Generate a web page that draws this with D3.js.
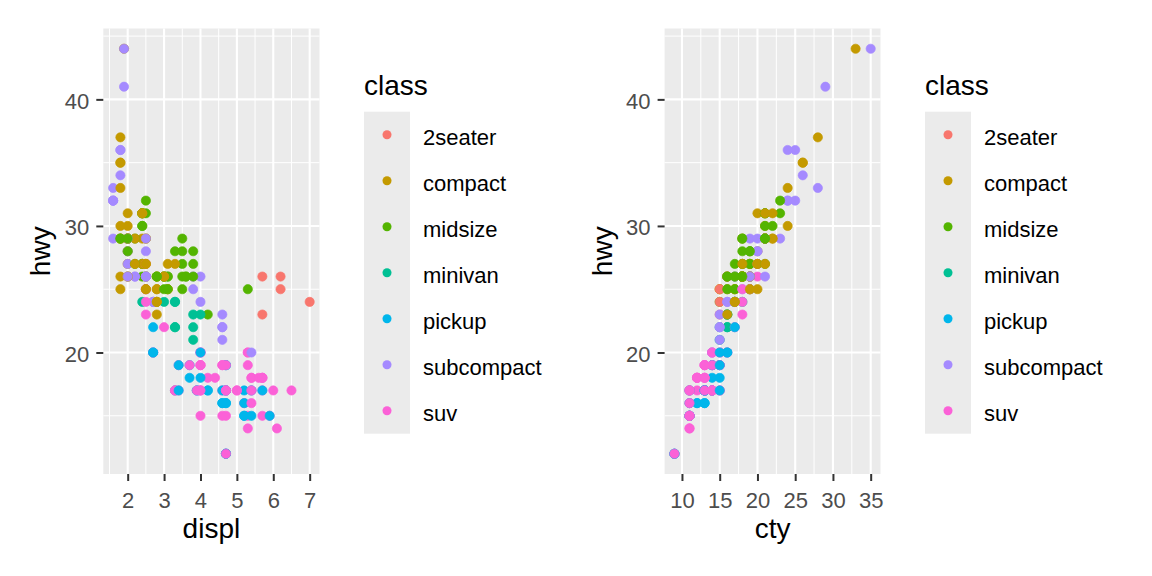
<!DOCTYPE html>
<html>
<head>
<meta charset="utf-8">
<script src="https://cdn.jsdelivr.net/npm/d3@7"></script>
<style>
  body { margin: 0; background: #fff; }
  text { font-family: "Liberation Sans", Arial, sans-serif; }
</style>
</head>
<body>
<svg id="chart" width="1152" height="576"></svg>
<script>
// legend categories and their hue colours
var classes = ["2seater", "compact", "midsize", "minivan", "pickup", "subcompact", "suv"];
var palette = ["#F8766D", "#C49A00", "#53B400", "#00C094", "#00B6EB", "#A58AFF", "#FB61D7"];

// tick labels
var displTicks = [2, 3, 4, 5, 6, 7];
var ctyTicks = [10, 15, 20, 25, 30, 35];
var hwyTicks = [20, 30, 40];

// one entry per car, in drawing order
var displ = [
  1.8,1.8,2.0,2.0,2.8,2.8,3.1,1.8,1.8,2.0,
  2.0,2.8,2.8,3.1,3.1,2.8,3.1,4.2,5.3,5.3,
  5.3,5.7,6.0,5.7,5.7,6.2,6.2,7.0,5.3,5.3,
  5.7,6.5,2.4,2.4,3.1,3.5,3.6,2.4,3.0,3.3,
  3.3,3.3,3.3,3.3,3.8,3.8,3.8,4.0,3.7,3.7,
  3.9,3.9,4.7,4.7,4.7,5.2,5.2,3.9,4.7,4.7,
  4.7,5.2,5.7,5.9,4.7,4.7,4.7,4.7,4.7,4.7,
  5.2,5.2,5.7,5.9,4.6,5.4,5.4,4.0,4.0,4.0,
  4.0,4.6,5.0,4.2,4.2,4.6,4.6,4.6,5.4,5.4,
  3.8,3.8,4.0,4.0,4.6,4.6,4.6,4.6,5.4,1.6,
  1.6,1.6,1.6,1.6,1.8,1.8,1.8,2.0,2.4,2.4,
  2.4,2.4,2.5,2.5,3.3,2.0,2.0,2.0,2.0,2.7,
  2.7,2.7,3.0,3.7,4.0,4.7,4.7,4.7,5.7,6.1,
  4.0,4.2,4.4,4.6,5.4,5.4,5.4,4.0,4.0,4.6,
  5.0,2.4,2.4,2.5,2.5,3.5,3.5,3.0,3.0,3.5,
  3.3,3.3,4.0,5.6,3.1,3.8,3.8,3.8,5.3,2.5,
  2.5,2.5,2.5,2.5,2.5,2.2,2.2,2.5,2.5,2.5,
  2.5,2.5,2.5,2.7,2.7,3.4,3.4,4.0,4.7,2.2,
  2.2,2.4,2.4,3.0,3.0,3.5,2.2,2.2,2.4,2.4,
  3.0,3.0,3.3,1.8,1.8,1.8,1.8,1.8,4.7,5.7,
  2.7,2.7,2.7,3.4,3.4,4.0,4.0,2.0,2.0,2.0,
  2.0,2.8,1.9,2.0,2.0,2.0,2.0,2.5,2.5,2.8,
  2.8,1.9,1.9,2.0,2.0,2.5,2.5,1.8,1.8,2.0,
  2.0,2.8,2.8,3.6
];
var cty = [
  18,21,20,21,16,18,18,18,16,20,
  19,15,17,17,15,15,17,16,14,11,
  14,13,12,16,15,16,15,15,14,11,
  11,14,19,22,18,18,17,18,17,16,
  16,17,17,11,15,15,16,16,15,14,
  13,14,14,14,9,11,11,13,13,9,
  13,11,13,11,12,9,13,13,12,9,
  11,11,13,11,11,11,12,14,15,14,
  13,13,13,14,14,13,13,13,11,13,
  18,18,17,16,15,15,15,15,14,28,
  24,25,23,24,26,25,24,21,18,18,
  21,21,18,18,19,19,19,20,20,17,
  16,17,17,15,15,14,9,14,13,11,
  11,12,12,11,11,11,12,14,13,13,
  13,21,19,23,23,19,19,18,19,19,
  14,15,14,12,18,16,17,18,16,18,
  18,20,19,20,18,21,19,19,19,20,
  20,19,20,15,16,15,15,16,14,21,
  21,21,21,18,18,19,21,21,21,22,
  18,18,18,24,24,26,28,26,11,13,
  15,16,17,15,15,15,16,21,19,21,
  22,17,33,21,19,22,21,21,21,16,
  17,35,29,21,19,20,20,21,18,19,
  21,16,18,17
];
var hwy = [
  29,29,31,30,26,26,27,26,25,28,
  27,25,25,25,25,24,25,23,20,15,
  20,17,17,26,23,26,25,24,19,14,
  15,17,27,30,26,29,26,24,24,22,
  22,24,24,17,22,21,23,23,19,18,
  17,17,19,19,12,17,15,17,17,12,
  17,16,18,15,16,12,17,17,16,12,
  15,16,17,15,17,17,18,17,19,17,
  19,19,17,17,17,16,16,17,15,17,
  26,25,26,24,21,22,23,22,20,33,
  32,32,29,32,34,36,36,29,26,27,
  30,31,26,26,28,26,29,28,27,24,
  24,24,22,19,20,17,12,19,18,14,
  15,18,18,15,17,16,18,17,19,19,
  17,29,27,31,32,27,26,26,25,25,
  17,17,20,18,26,26,27,28,25,25,
  24,27,25,26,23,26,26,26,26,25,
  27,25,27,20,20,19,17,20,17,29,
  27,31,31,26,26,28,27,29,31,31,
  26,26,27,30,33,35,37,35,15,18,
  20,20,22,17,19,18,20,29,26,29,
  29,24,44,29,26,29,29,29,29,23,
  24,44,41,29,26,28,29,29,29,28,
  29,26,26,26
];
var carClass = [
  "compact","compact","compact","compact","compact","compact","compact","compact","compact","compact",
  "compact","compact","compact","compact","compact","midsize","midsize","midsize","suv","suv",
  "suv","suv","suv","2seater","2seater","2seater","2seater","2seater","suv","suv",
  "suv","suv","midsize","midsize","midsize","midsize","midsize","minivan","minivan","minivan",
  "minivan","minivan","minivan","minivan","minivan","minivan","minivan","minivan","pickup","pickup",
  "pickup","pickup","pickup","pickup","pickup","pickup","pickup","suv","suv","suv",
  "suv","suv","suv","suv","pickup","pickup","pickup","pickup","pickup","pickup",
  "pickup","pickup","pickup","pickup","suv","suv","suv","suv","suv","suv",
  "suv","suv","suv","pickup","pickup","pickup","pickup","pickup","pickup","pickup",
  "subcompact","subcompact","subcompact","subcompact","subcompact","subcompact","subcompact","subcompact","subcompact","subcompact",
  "subcompact","subcompact","subcompact","subcompact","subcompact","subcompact","subcompact","subcompact","midsize","midsize",
  "midsize","midsize","midsize","midsize","midsize","subcompact","subcompact","subcompact","subcompact","subcompact",
  "subcompact","subcompact","suv","suv","suv","suv","suv","suv","suv","suv",
  "suv","suv","suv","suv","suv","suv","suv","suv","suv","suv",
  "suv","compact","compact","midsize","midsize","midsize","midsize","midsize","midsize","midsize",
  "suv","suv","suv","suv","midsize","midsize","midsize","midsize","midsize","suv",
  "suv","suv","suv","suv","suv","subcompact","subcompact","subcompact","subcompact","compact",
  "compact","compact","compact","suv","suv","suv","suv","suv","suv","midsize",
  "midsize","midsize","midsize","midsize","midsize","midsize","compact","compact","compact","compact",
  "compact","compact","compact","compact","compact","compact","compact","compact","suv","suv",
  "pickup","pickup","pickup","pickup","pickup","pickup","pickup","compact","compact","compact",
  "compact","compact","compact","compact","compact","compact","compact","compact","compact","compact",
  "compact","subcompact","subcompact","subcompact","subcompact","subcompact","subcompact","midsize","midsize","midsize",
  "midsize","midsize","midsize","midsize"
];

var svg = d3.select("#chart");
var color = d3.scaleOrdinal().domain(classes).range(palette);

var panelTop = 28.5,
  panelBottom = 474;

// ggplot-like 5% expansion of the data range
function expanded(vals) {
  var ext = d3.extent(vals);
  var pad = (ext[1] - ext[0]) * 0.05;
  return [ext[0] - pad, ext[1] + pad];
}

// minor breaks halfway between the major ones
function minorOf(ticks, domain) {
  var step = ticks[1] - ticks[0];
  return d3
    .range(ticks[0] - step / 2, ticks[ticks.length - 1] + step, step)
    .filter((v) => v >= domain[0] && v <= domain[1]);
}

function drawPanel(xVals, xName, xTicks, left, right, legendX) {
  var x = d3.scaleLinear().domain(expanded(xVals)).range([left, right]);
  var y = d3.scaleLinear().domain(expanded(hwy)).range([panelBottom, panelTop]);

  var g = svg.append("g");

  g.append("rect")
    .attr("x", left)
    .attr("y", panelTop)
    .attr("width", right - left)
    .attr("height", panelBottom - panelTop)
    .attr("fill", "#EBEBEB");

  // minor grid
  g.selectAll(".vminor")
    .data(minorOf(xTicks, x.domain()))
    .enter()
    .append("line")
    .attr("x1", (d) => x(d)).attr("x2", (d) => x(d))
    .attr("y1", panelTop).attr("y2", panelBottom)
    .attr("stroke", "#fff").attr("stroke-width", 1);
  g.selectAll(".hminor")
    .data(minorOf(hwyTicks, y.domain()))
    .enter()
    .append("line")
    .attr("y1", (d) => y(d)).attr("y2", (d) => y(d))
    .attr("x1", left).attr("x2", right)
    .attr("stroke", "#fff").attr("stroke-width", 1);

  // major grid
  g.selectAll(".vmajor")
    .data(xTicks)
    .enter()
    .append("line")
    .attr("x1", (d) => x(d)).attr("x2", (d) => x(d))
    .attr("y1", panelTop).attr("y2", panelBottom)
    .attr("stroke", "#fff").attr("stroke-width", 2.1);
  g.selectAll(".hmajor")
    .data(hwyTicks)
    .enter()
    .append("line")
    .attr("y1", (d) => y(d)).attr("y2", (d) => y(d))
    .attr("x1", left).attr("x2", right)
    .attr("stroke", "#fff").attr("stroke-width", 2.1);

  // points, drawn in row order like ggplot
  g.selectAll("circle")
    .data(d3.range(hwy.length))
    .enter()
    .append("circle")
    .attr("cx", (i) => x(xVals[i]))
    .attr("cy", (i) => y(hwy[i]))
    .attr("r", 4.6)
    .attr("fill", (i) => color(carClass[i]))
    .attr("stroke", (i) => color(carClass[i]))
    .attr("stroke-width", 0.7);

  // axes
  var xAxis = g.append("g")
    .attr("transform", "translate(0," + panelBottom + ")")
    .call(d3.axisBottom(x).tickValues(xTicks).tickFormat(d3.format("d")).tickSize(7).tickPadding(11));
  var yAxis = g.append("g")
    .attr("transform", "translate(" + left + ",0)")
    .call(d3.axisLeft(y).tickValues(hwyTicks).tickFormat(d3.format("d")).tickSize(7).tickPadding(7));
  [xAxis, yAxis].forEach((a) => {
    a.select(".domain").remove();
    a.attr("font-family", null).attr("font-size", null);
    a.selectAll("line").attr("stroke", "#333333").attr("stroke-width", 2);
    a.selectAll("text").attr("fill", "#4D4D4D").style("font-size", "22px");
  });
  yAxis.selectAll("text").attr("dy", "0.4em");

  // axis titles
  g.append("text")
    .attr("x", (left + right) / 2)
    .attr("y", 538)
    .attr("text-anchor", "middle")
    .style("font-size", "28px")
    .text(xName);
  g.append("text")
    .attr("transform", "translate(" + (left - 53) + "," + (panelTop + panelBottom) / 2 + ") rotate(-90)")
    .attr("text-anchor", "middle")
    .style("font-size", "28px")
    .text("hwy");

  // legend
  var leg = g.append("g").attr("transform", "translate(" + legendX + ",0)");
  leg.append("text")
    .attr("x", 0)
    .attr("y", 95)
    .style("font-size", "28px")
    .text("class");
  leg.append("rect")
    .attr("x", 0)
    .attr("y", 111.7)
    .attr("width", 46)
    .attr("height", 46 * classes.length)
    .attr("fill", "#EBEBEB");
  var item = leg.selectAll(".item")
    .data(classes)
    .enter()
    .append("g")
    .attr("transform", (d, i) => "translate(0," + (111.7 + 23 + i * 46) + ")");
  item.append("circle")
    .attr("cx", 23)
    .attr("cy", 0)
    .attr("r", 4.5)
    .attr("fill", (d) => color(d));
  item.append("text")
    .attr("x", 59)
    .attr("y", 10)
    .style("font-size", "22px")
    .text((d) => d);
}

drawPanel(displ, "displ", displTicks, 103.3, 319.5, 364);
drawPanel(cty, "cty", ctyTicks, 664.6, 880.5, 925);
</script>
</body>
</html>
